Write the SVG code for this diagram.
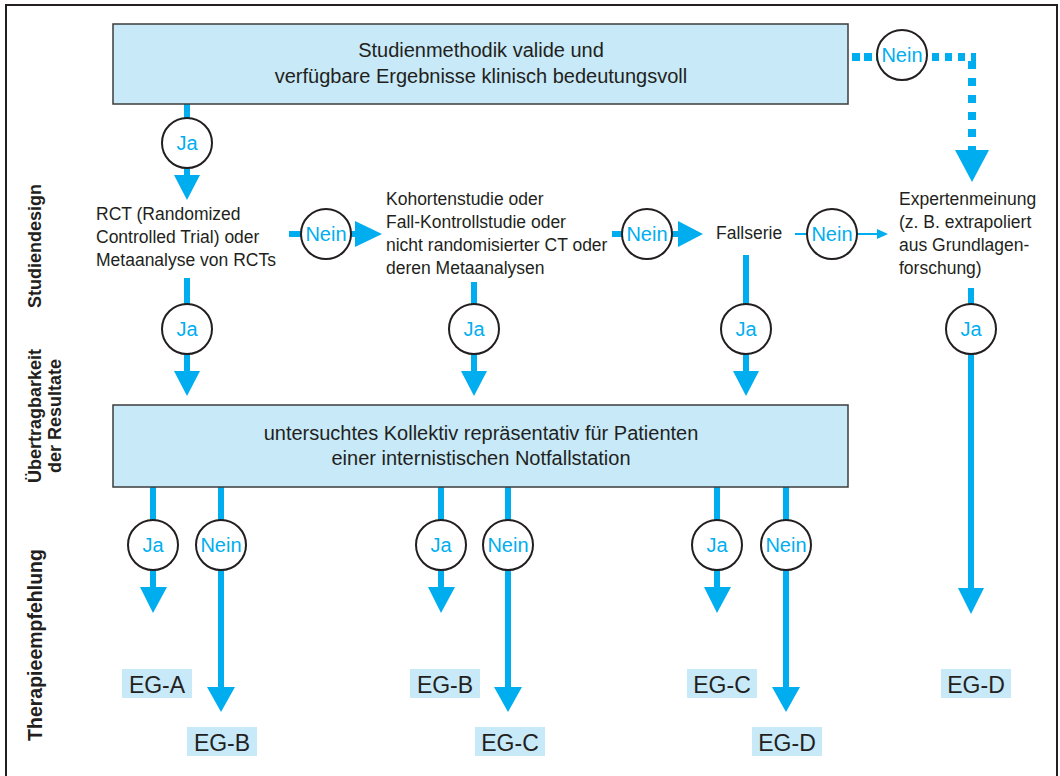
<svg xmlns="http://www.w3.org/2000/svg" width="1060" height="776" viewBox="0 0 1060 776">
<style>
.box{fill:#c7e9f8;stroke:#3c3c3c;stroke-width:1.5}
.t{font-family:"Liberation Sans",Arial,sans-serif;fill:#231f20}
.big{font-size:20px;text-anchor:middle}
.mid{font-size:17.5px}
.side{font-size:18px;font-weight:bold;text-anchor:middle}
.ln{stroke:#00aeef;stroke-width:6;fill:none}
.thin{stroke:#00aeef;stroke-width:2;fill:none}
.dot{stroke:#00aeef;stroke-width:8;fill:none}
.ah{fill:#00aeef}
.c{fill:#fff;stroke:#231f20;stroke-width:2}
.lbl{font-family:"Liberation Sans",Arial,sans-serif;font-size:20px;fill:#00aeef;text-anchor:middle}
.eg{fill:#c7e9f8}
.egt{font-size:23px;text-anchor:middle}
</style>
<rect x="6" y="5" width="1051" height="800" fill="none" stroke="#231f20" stroke-width="2"/>

<g id="side-labels" class="t">
<text class="side" transform="translate(41,246) rotate(-90)">Studiendesign</text>
<text class="side" transform="translate(41,416) rotate(-90)">Übertragbarkeit</text>
<text class="side" transform="translate(61,416) rotate(-90)">der Resultate</text>
<text class="side" style="font-size:19.5px" transform="translate(42,645) rotate(-90)">Therapieempfehlung</text>
</g>

<g id="connectors">
<path class="ln" d="M187,104 V118 M187,168 V177"/>
<polygon class="ah" points="174,175 200,175 187,200"/>
<path class="dot" d="M852,57 H877" stroke-dasharray="8 4"/>
<path class="dot" d="M932,57 H976" stroke-dasharray="7 6"/>
<path class="dot" d="M972,61 V150" stroke-dasharray="8 9"/>
<polygon class="ah" points="955,150 989,150 972,182"/>
<path class="ln" d="M289,234 H301 M351,234 H357"/>
<polygon class="ah" points="355,221 355,247 382,234"/>
<path class="ln" d="M612,234 H622 M672,234 H680"/>
<polygon class="ah" points="678,221 678,247 703,234"/>
<path class="thin" d="M795,234 H807 M857,234 H880"/>
<polygon class="ah" points="877,229 877,239 888,234"/>
<path class="ln" d="M187,278 V304 M187,354 V372 M474,282 V304 M474,354 V372 M746,255 V304 M746,354 V372 M971,288 V304 M971,354 V590"/>
<polygon class="ah" points="174,371 200,371 187,396"/>
<polygon class="ah" points="461,371 487,371 474,396"/>
<polygon class="ah" points="733,371 759,371 746,396"/>
<polygon class="ah" points="958,588 984,588 971,614"/>
<path class="ln" d="M153,487 V520 M153,570 V589 M441,487 V520 M441,570 V589 M717,487 V520 M717,570 V589"/>
<polygon class="ah" points="140,587 167,587 153,613"/>
<polygon class="ah" points="428,587 455,587 441,613"/>
<polygon class="ah" points="704,587 731,587 717,613"/>
<path class="ln" d="M221,487 V520 M221,570 V689 M508,487 V520 M508,570 V689 M786,487 V520 M786,570 V689"/>
<polygon class="ah" points="207,687 235,687 221,712"/>
<polygon class="ah" points="494,687 522,687 508,712"/>
<polygon class="ah" points="772,687 800,687 786,712"/>
</g>

<g id="top-box">
<rect class="box" x="113" y="24" width="735" height="80"/>
<text class="t big" x="481" y="57">Studienmethodik valide und</text>
<text class="t big" x="481" y="83">verfügbare Ergebnisse klinisch bedeutungsvoll</text>
</g>

<g id="rct" class="t mid">
<text x="96" y="220">RCT (Randomized</text>
<text x="96" y="243">Controlled Trial) oder</text>
<text x="96" y="266">Metaanalyse von RCTs</text>
</g>
<g id="kohorte" class="t mid">
<text x="386" y="205">Kohortenstudie oder</text>
<text x="386" y="228">Fall-Kontrollstudie oder</text>
<text x="386" y="251">nicht randomisierter CT oder</text>
<text x="386" y="274">deren Metaanalysen</text>
</g>
<g id="fallserie" class="t mid">
<text x="716" y="239">Fallserie</text>
</g>
<g id="experten" class="t mid">
<text x="899" y="205">Expertenmeinung</text>
<text x="899" y="228">(z. B. extrapoliert</text>
<text x="899" y="251">aus Grundlagen-</text>
<text x="899" y="274">forschung)</text>
</g>

<g id="mid-box">
<rect class="box" x="113" y="405" width="735" height="82"/>
<text class="t big" x="481" y="440">untersuchtes Kollektiv repräsentativ für Patienten</text>
<text class="t big" x="481" y="465">einer internistischen Notfallstation</text>
</g>

<g id="decisions">
<g id="d-top-ja"><circle class="c" cx="187" cy="143" r="25"/><text class="lbl" x="187" y="150">Ja</text></g>
<g id="d-top-nein"><circle class="c" cx="902" cy="55" r="25"/><text class="lbl" x="902" y="62">Nein</text></g>
<g id="d-n1"><circle class="c" cx="326" cy="234" r="25"/><text class="lbl" x="326" y="241">Nein</text></g>
<g id="d-n2"><circle class="c" cx="647" cy="234" r="25"/><text class="lbl" x="647" y="241">Nein</text></g>
<g id="d-n3"><circle class="c" cx="832" cy="234" r="25"/><text class="lbl" x="832" y="241">Nein</text></g>
<g id="d-j1"><circle class="c" cx="187" cy="329" r="25"/><text class="lbl" x="187" y="336">Ja</text></g>
<g id="d-j2"><circle class="c" cx="474" cy="329" r="25"/><text class="lbl" x="474" y="336">Ja</text></g>
<g id="d-j3"><circle class="c" cx="746" cy="329" r="25"/><text class="lbl" x="746" y="336">Ja</text></g>
<g id="d-j4"><circle class="c" cx="971" cy="329" r="25"/><text class="lbl" x="971" y="336">Ja</text></g>
<g id="d-bj1"><circle class="c" cx="153" cy="545" r="25"/><text class="lbl" x="153" y="552">Ja</text></g>
<g id="d-bn1"><circle class="c" cx="221" cy="545" r="25"/><text class="lbl" x="221" y="552">Nein</text></g>
<g id="d-bj2"><circle class="c" cx="441" cy="545" r="25"/><text class="lbl" x="441" y="552">Ja</text></g>
<g id="d-bn2"><circle class="c" cx="508" cy="545" r="25"/><text class="lbl" x="508" y="552">Nein</text></g>
<g id="d-bj3"><circle class="c" cx="717" cy="545" r="25"/><text class="lbl" x="717" y="552">Ja</text></g>
<g id="d-bn3"><circle class="c" cx="786" cy="545" r="25"/><text class="lbl" x="786" y="552">Nein</text></g>
</g>

<g id="eg-a1"><rect class="eg" x="122" y="669" width="70" height="29"/><text class="t egt" x="157" y="693">EG-A</text></g>
<g id="eg-b1"><rect class="eg" x="410" y="669" width="70" height="29"/><text class="t egt" x="445" y="693">EG-B</text></g>
<g id="eg-c1"><rect class="eg" x="687" y="669" width="70" height="29"/><text class="t egt" x="722" y="693">EG-C</text></g>
<g id="eg-d1"><rect class="eg" x="941" y="669" width="70" height="29"/><text class="t egt" x="976" y="693">EG-D</text></g>
<g id="eg-b2"><rect class="eg" x="187" y="727" width="70" height="29"/><text class="t egt" x="222" y="751">EG-B</text></g>
<g id="eg-c2"><rect class="eg" x="475" y="727" width="70" height="29"/><text class="t egt" x="510" y="751">EG-C</text></g>
<g id="eg-d2"><rect class="eg" x="752" y="727" width="70" height="29"/><text class="t egt" x="787" y="751">EG-D</text></g>
</svg>
